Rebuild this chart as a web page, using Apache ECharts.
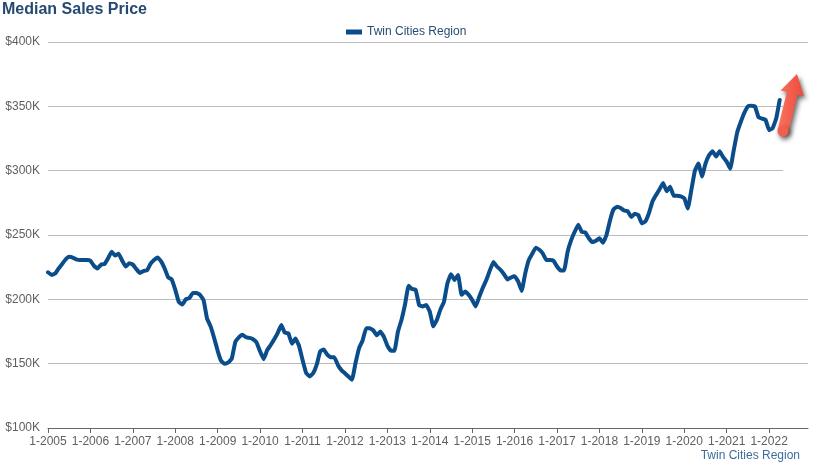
<!DOCTYPE html>
<html>
<head>
<meta charset="utf-8">
<script src="https://cdn.jsdelivr.net/npm/echarts@6/dist/echarts.min.js"></script>
<style>
  html, body { margin: 0; padding: 0; background: #fff; }
  #chart { width: 820px; height: 466px; }
</style>
</head>
<body>
<div id="chart"></div>
<script>
// Years shown on the x axis (tick labels are "1-YYYY", one per January)
const years = [2005, 2006, 2007, 2008, 2009, 2010, 2011, 2012, 2013, 2014, 2015, 2016, 2017, 2018, 2019, 2020, 2021, 2022];
const seriesName = "Twin Cities Region";
// Median sales price in $K, monthly from 1-2005 to 4-2022
const medianPriceK = [
  221, 219, 220, 224, 227.5, 231, 233, 232.5, 231, 230.5, 230.5, 230.5,
  230, 226, 224, 227, 227.5, 232, 237, 234, 235.5, 230, 225.5, 228,
  227, 223.5, 220.5, 222, 222.5, 227.5, 230.5, 232.5, 229.5, 224, 217, 215.5,
  207.5, 198, 196, 200, 201, 205, 205, 203.5, 199.5, 185, 179, 170,
  160, 152, 150, 151, 154, 167, 170.5, 172.5, 170.5, 170, 169, 166.5,
  159.5, 153.5, 160.5, 164.5, 169, 174, 180, 174, 173.5, 165.5, 169.5, 164,
  153, 143, 140, 142.5, 149, 159.5, 161, 157, 155, 155, 149, 145,
  142.5, 140, 137.5, 150.5, 162, 168, 177.5, 177.5, 176, 172, 175, 171,
  164, 160, 160, 175, 184, 196, 210.5, 208, 207.5, 195.5, 194.5, 195.5,
  190.5, 179, 184, 192, 198, 212.5, 219.5, 215, 219, 203.5, 206, 203.5,
  199.5, 194.5, 202, 209, 215, 222.5, 229, 225.5, 223, 219.5, 215.5, 217,
  218, 214, 206.5, 220, 230.5, 235.5, 240, 238.5, 235.5, 230.5, 230.5, 230,
  225.5, 222.5, 222.5, 237, 246, 252.5, 258, 252.5, 252, 247.5, 244.5, 245.5,
  247.5, 244, 250, 261.5, 270, 272, 271, 269, 268.5, 264, 266.5, 265.5,
  259, 260.5, 267, 276, 281, 285.5, 290.5, 284, 287.5, 280.5, 280.5, 280,
  278.5, 270.5, 285, 300, 305.5, 295.5, 305.5, 312, 315, 311, 315, 310.5,
  307, 301.5, 316, 330, 338, 345, 350, 350.5, 350, 341.5, 340.5, 339.5,
  331.5, 333, 340.5, 355
];
// Y axis range in $K
const yTicks = [100, 150, 200, 250, 300, 350, 400];

// Month categories: each year 1..12 (axis runs through 12-2022)
const categories = [];
years.forEach(y => { for (let m = 1; m <= 12; m++) categories.push(m + "-" + y); });

const chart = echarts.init(document.getElementById('chart'), null, { renderer: 'canvas' });

// Arrow geometry (decoration)
const tail = [783, 131], tip = [797, 74];
const dx = tip[0] - tail[0], dy = tip[1] - tail[1];
const len = Math.sqrt(dx * dx + dy * dy);
const ux = dx / len, uy = dy / len, nx = -uy, ny = ux;
const headLen = 20, shaftW = 5.5, headW = 12;
const bx = tip[0] - headLen * ux, by = tip[1] - headLen * uy;
const arrowPts = [
  [tail[0] - shaftW * nx, tail[1] - shaftW * ny],
  [bx - shaftW * nx, by - shaftW * ny],
  [bx - headW * nx, by - headW * ny],
  tip,
  [bx + headW * nx, by + headW * ny],
  [bx + shaftW * nx, by + shaftW * ny],
  [tail[0] + shaftW * nx, tail[1] + shaftW * ny]
];
const arrowShadow = { shadowBlur: 5, shadowOffsetX: 2, shadowOffsetY: 3, shadowColor: 'rgba(0,0,0,0.6)' };

chart.setOption({
  animation: false,
  backgroundColor: '#ffffff',
  title: {
    text: 'Median Sales Price',
    left: 2, top: 2, padding: 0,
    textStyle: { fontFamily: 'Liberation Sans, Arial, sans-serif', fontSize: 16, fontWeight: 'bold', color: '#244a72' }
  },
  legend: {
    data: [{ name: seriesName, icon: 'rect' }],
    left: 341, top: 21,
    itemWidth: 16, itemHeight: 5, itemGap: 5,
    textStyle: { fontFamily: 'Liberation Sans, Arial, sans-serif', fontSize: 12, color: '#284d75' }
  },
  grid: { left: 48, right: 12, top: 42, bottom: 38, containLabel: false },
  xAxis: {
    type: 'category',
    data: categories,
    boundaryGap: false,
    axisLine: { lineStyle: { color: '#666', width: 1 } },
    axisTick: { interval: 11, length: 5, lineStyle: { color: '#666' } },
    axisLabel: {
      interval: 11, margin: 8,
      fontFamily: 'Liberation Sans, Arial, sans-serif', fontSize: 12, color: '#606060'
    },
    splitLine: { show: false }
  },
  yAxis: {
    type: 'value',
    min: yTicks[0], max: yTicks[yTicks.length - 1], interval: 50,
    axisLine: { show: false },
    axisTick: { show: false },
    axisLabel: {
      margin: 8,
      formatter: v => '$' + v + 'K',
      fontFamily: 'Liberation Sans, Arial, sans-serif', fontSize: 12, color: '#606060'
    },
    splitLine: { lineStyle: { color: '#bcbcbc', width: 1 } }
  },
  series: [{
    name: seriesName,
    type: 'line',
    data: medianPriceK,
    showSymbol: false,
    symbol: 'none',
    smooth: 0.1,
    lineStyle: { color: '#0a4d8a', width: 4, join: 'round', cap: 'round' },
    itemStyle: { color: '#0a4d8a' }
  }],
  graphic: [
    { type: 'rect', left: 783, top: 60, shape: { width: 30, height: 168 }, style: { fill: '#ffffff' }, z: 50 },
    {
      type: 'polygon', z: 60,
      shape: { points: arrowPts },
      style: Object.assign({
        fill: new echarts.graphic.LinearGradient(0, 0, 1, 0, [
          { offset: 0, color: '#f8735f' }, { offset: 1, color: '#ec4a3b' }
        ])
      }, arrowShadow)
    },
    {
      type: 'circle', z: 60,
      shape: { cx: tail[0], cy: tail[1], r: shaftW },
      style: Object.assign({ fill: '#f25e4e' }, arrowShadow)
    },
    {
      type: 'text', z: 60,
      right: 20, top: 450,
      style: { text: seriesName, fontFamily: 'Liberation Sans, Arial, sans-serif', fontSize: 12, fill: '#3e6d9c' }
    }
  ]
});
</script>
</body>
</html>
